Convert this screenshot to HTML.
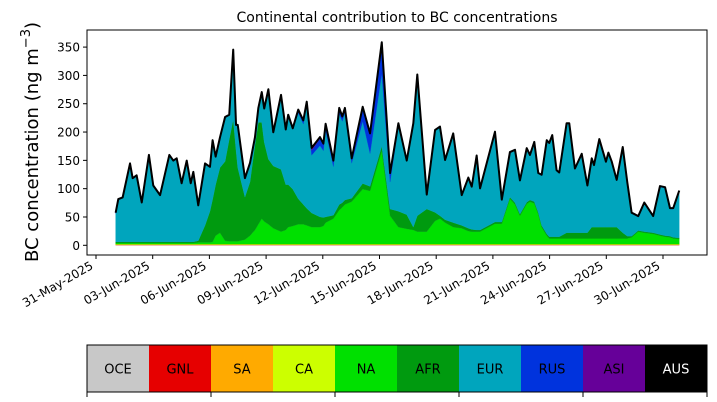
<!DOCTYPE html>
<html><head><meta charset="utf-8">
<style>
html,body{margin:0;padding:0;background:#fff;}
svg{display:block;font-family:"DejaVu Sans","Liberation Sans",sans-serif;}
</style></head>
<body>
<svg id="chart" width="717" height="402" viewBox="0 0 717 402">
<text x="397" y="22" font-size="14" text-anchor="middle">Continental contribution to BC concentrations</text>
<text transform="translate(38,142) rotate(-90)" font-size="18" text-anchor="middle">BC concentration (ng m<tspan dy="-8" font-size="13">−3</tspan><tspan dy="8">)</tspan></text>
<g id="areas"></g>
<g id="axes"></g>
<g id="legend"></g>
</svg>
<script>
const days = [1.04,1.18,1.41,1.80,1.94,2.15,2.42,2.80,3.03,3.39,3.88,4.09,
4.27,4.53,4.80,5.01,5.15,5.41,5.77,6.03,6.17,6.33,6.56,6.83,
7.05,7.26,7.41,7.50,7.88,8.15,8.41,8.59,8.77,8.90,9.12,9.38,
9.79,10.04,10.17,10.41,10.70,10.97,11.15,11.41,11.85,12.03,12.15,12.56,
12.87,13.03,13.17,13.53,14.11,14.50,15.12,15.56,16.00,16.44,16.79,17.00,
17.50,17.94,18.20,18.47,18.90,19.35,19.70,19.88,20.14,20.32,21.11,21.47,
21.90,22.17,22.43,22.79,22.96,23.19,23.40,23.58,23.85,23.98,24.14,24.37,
24.51,24.90,25.04,25.34,25.70,26.00,26.23,26.35,26.63,26.98,27.11,27.29,
27.55,27.87,28.11,28.34,28.69,29.01,29.48,29.84,30.11,30.37,30.54,30.86];
const OCE = [0.5,0.5,0.5,0.5,0.5,0.5,0.5,0.5,0.5,0.5,0.5,0.5, 0.5,0.5,0.5,0.5,0.5,0.5,0.5,0.5,0.5,0.5,0.5,0.5,
0.5,0.5,0.5,0.5,0.5,0.5,0.5,0.5,0.5,0.5,0.5,0.5, 0.5,0.5,0.5,0.5,0.5,0.5,0.5,0.5,0.5,0.5,0.5,0.5,
0.5,0.5,0.5,0.5,0.5,0.5,0.5,0.5,0.5,0.5,0.5,0.5, 0.5,0.5,0.5,0.5,0.5,0.5,0.5,0.5,0.5,0.5,0.5,0.5,
0.5,0.5,0.5,0.5,0.5,0.5,0.5,0.5,0.5,0.5,0.5,0.5, 0.5,0.5,0.5,0.5,0.5,0.5,0.5,0.5,0.5,0.5,0.5,0.5,
0.5,0.5,0.5,0.5,0.5,0.5,0.5,0.5,0.5,0.5,0.5,0.5];
const GNL = [0.2,0.2,0.2,0.2,0.2,0.2,0.2,0.2,0.2,0.2,0.2,0.2, 0.2,0.2,0.2,0.2,0.2,0.2,0.2,0.2,0.2,0.2,0.2,0.2,
0.2,0.2,0.2,0.2,0.2,0.2,0.2,0.2,0.2,0.2,0.2,0.2, 0.2,0.2,0.2,0.2,0.2,0.2,0.2,0.2,0.2,0.2,0.2,0.2,
0.2,0.2,0.2,0.2,0.2,0.2,0.2,0.2,0.2,0.2,0.2,0.2, 0.2,0.2,0.2,0.2,0.2,0.2,0.2,0.2,0.2,0.2,0.2,0.2,
0.2,0.2,0.2,0.2,0.2,0.2,0.2,0.2,0.2,0.2,0.2,0.2, 0.2,0.2,0.2,0.2,0.2,0.2,0.2,0.2,0.2,0.2,0.2,0.2,
0.2,0.2,0.2,0.2,0.2,0.2,0.2,0.2,0.2,0.2,0.2,0.2];
const SA = [0.8,0.8,0.8,0.8,0.8,0.8,0.8,0.8,0.8,0.8,0.8,0.8, 0.8,0.8,0.8,0.8,0.8,0.8,0.8,0.8,0.8,0.8,0.8,0.8,
0.8,0.8,0.8,0.8,0.8,0.8,0.8,0.8,0.8,0.8,0.8,0.8, 0.8,0.8,0.8,0.8,0.8,0.8,0.8,0.8,0.8,0.8,0.8,0.8,
0.8,0.8,0.8,0.8,0.8,0.8,0.8,0.8,0.8,0.8,0.8,0.8, 0.8,0.8,0.8,0.8,0.8,0.8,0.8,0.8,0.8,0.8,0.8,0.8,
0.8,0.8,0.8,0.8,0.8,0.8,0.8,0.8,0.8,0.8,0.8,0.8, 0.8,0.8,0.8,0.8,0.8,0.8,0.8,0.8,0.8,0.8,0.8,0.8,
0.8,0.8,0.8,0.8,0.8,0.8,0.8,0.8,0.8,0.8,0.8,0.8];
const CA = [0.6,0.6,0.6,0.6,0.6,0.6,0.6,0.6,0.6,0.6,0.6,0.6, 0.6,0.6,0.6,0.6,0.6,0.6,0.6,0.6,0.6,0.6,0.6,0.6,
0.6,0.6,0.6,0.6,0.6,0.6,0.6,0.6,0.6,0.6,0.6,0.6, 0.6,0.6,0.6,0.6,0.6,0.6,0.6,0.6,0.6,0.6,0.6,0.6,
0.6,0.6,0.6,0.6,0.6,0.6,0.6,0.6,0.6,0.6,0.6,0.6, 0.6,0.6,0.6,0.6,0.6,0.6,0.6,0.6,0.6,0.6,0.6,0.6,
0.6,0.6,0.6,0.6,0.6,0.6,0.6,0.6,0.6,0.6,0.6,0.6, 0.6,0.6,0.6,0.6,0.6,0.6,0.6,0.6,0.6,0.6,0.6,0.6,
0.6,0.6,0.6,0.6,0.6,0.6,0.6,0.6,0.6,0.6,0.6,0.6];
const NA = [2,2,2,2,2,2,2,2,2,2,2,2,
2,2,2,2,2,3,3,3,4,15,20,6,
5,5,5,5,8,15,25,35,45,40,35,28,
22,25,30,32,35,35,33,30,30,32,38,45,
60,65,70,75,97,94,165,50,30,27,25,22,
22,41,45,38,30,28,23,22,22,22,36,36,
80,70,50,71,75,72,53,30,15,10,10,10,
10,10,10,10,10,10,10,10,10,10,10,10,
10,10,10,12,22,20,18,15,13,12,10,9];
const AFR = [2,2,2,2,2,2,2,2,2,2,2,2,
2,2,2,2,2,3,30,55,75,90,115,140,
180,215,160,130,75,95,150,180,170,140,115,110,
110,80,75,65,45,35,30,25,18,15,10,6,
10,8,8,6,10,8,8,12,28,25,5,28,
40,15,5,5,8,5,5,4,3,3,3,3,
3,3,3,3,3,3,3,3,3,3,3,3,
3,10,10,10,10,10,20,20,20,20,20,20,
20,10,4,2,2,2,2,2,2,2,2,2];
const EUR = [50,74,77,137,111,116,68,152,98,81,152,142,
146,102,142,102,122,61,108,77,103,48,52,77,
42,122,44,74,32,32,12,24,52,58,122,58,
130,96,122,106,152,142,182,102,126,118,152,86,
160,144,154,62,110,58,128,48,150,94,182,248,
24,144,156,104,156,52,88,74,130,72,158,38,
78,92,58,94,78,104,68,88,164,164,178,116,
112,192,192,112,138,82,120,108,154,114,130,114,
82,150,94,40,24,50,28,84,84,48,50,82];
const RUS = [1,1,1,1,1,1,1,1,1,1,1,1, 1,1,1,1,1,1,1,1,1,1,1,1, 1,1,1,1,1,1,1,1,1,1,1,1,
1,1,1,1,5,6,6,8,12,12,12,10,
10,8,8,8,25,35,55,15,5,1,1,1,
1,1,1,1,1,1,1,1,1,1,1,1, 1,1,1,1,1,1,1,1,1,1,1,1, 1,1,1,1,1,1,1,1,1,1,1,1, 1,1,1,1,1,1,1,1,1,1,1,1];
const ASI = [0.5,0.5,0.5,0.5,0.5,0.5,0.5,0.5,0.5,0.5,0.5,0.5, 0.5,0.5,0.5,0.5,0.5,0.5,0.5,0.5,0.5,0.5,0.5,0.5,
0.5,0.5,0.5,0.5,0.5,0.5,0.5,0.5,0.5,0.5,0.5,0.5,
0.5,0.5,0.5,0.5,0.5,0.5,0.5,5,3,0.5,0.5,0.5,
0.5,0.5,0.5,0.5,0.5,0.5,0.5,0.5,0.5,0.5,0.5,0.5, 0.5,0.5,0.5,0.5,0.5,0.5,0.5,0.5,0.5,0.5,0.5,0.5,
0.5,0.5,0.5,0.5,0.5,0.5,0.5,0.5,0.5,0.5,0.5,0.5, 0.5,0.5,0.5,0.5,0.5,0.5,0.5,0.5,0.5,0.5,0.5,0.5,
0.5,0.5,0.5,0.5,0.5,0.5,0.5,0.5,0.5,0.5,0.5,0.5];
const AUS = [0,0,0,0,0,0,0,0,0,0,0,0, 0,0,0,0,0,0,0,0,0,0,0,0, 0,0,0,0,0,0,0,0,0,0,0,0,
0,0,0,0,0,0,0,0,0,0,0,0, 0,0,0,0,0,0,0,0,0,0,0,0, 0,0,0,0,0,0,0,0,0,0,0,0,
0,0,0,0,0,0,0,0,0,0,0,0, 0,0,0,0,0,0,0,0,0,0,0,0, 0,0,0,0,0,0,0,0,0,0,0,0];
const regionNames = ["OCE","GNL","SA","CA","NA","AFR","EUR","RUS","ASI","AUS"];
const yTicks = [0,50,100,150,200,250,300,350];
const xTickDays = [0,3,6,9,12,15,18,21,24,27,30];
const xTickLabels = ["31-May-2025","03-Jun-2025","06-Jun-2025","09-Jun-2025","12-Jun-2025","15-Jun-2025","18-Jun-2025","21-Jun-2025","24-Jun-2025","27-Jun-2025","30-Jun-2025"];

const series = [OCE,GNL,SA,CA,NA,AFR,EUR,RUS,ASI,AUS];
const colors = ["#c8c8c8","#e60000","#ffaa00","#ccff00","#00e000","#009a0f","#00a5bd","#0033dd","#660099","#000000"];
const NS = "http://www.w3.org/2000/svg";
const PL = 87, PR = 707, PT = 30, PB = 255;
function xScale(d){ return 96 + d * 18.9; }
function yScale(v){ return 245.3 - v * 0.5663; }
function mk(tag, attrs, parent){ const e = document.createElementNS(NS, tag); for (const k in attrs) e.setAttribute(k, attrs[k]); parent.appendChild(e); return e; }

const areas = document.getElementById('areas');
const n = days.length;
let base = new Array(n).fill(0);
series.forEach((s, si) => {
  const top = base.map((b, i) => b + s[i]);
  let d = "";
  for (let i = 0; i < n; i++) d += (i ? "L" : "M") + xScale(days[i]).toFixed(2) + "," + yScale(top[i]).toFixed(2);
  for (let i = n - 1; i >= 0; i--) d += "L" + xScale(days[i]).toFixed(2) + "," + yScale(base[i]).toFixed(2);
  d += "Z";
  const p = mk('path', {d: d, fill: colors[si], stroke: colors[si], 'stroke-width': 0.3}, areas);
  
  
  base = top;
});
let ld = "";
for (let i = 0; i < n; i++) ld += (i ? "L" : "M") + xScale(days[i]).toFixed(2) + "," + yScale(base[i]).toFixed(2);
const tl = mk('path', {d: ld, fill: 'none', stroke: '#000', 'stroke-width': 2, 'stroke-linejoin': 'round'}, areas);



const axes = document.getElementById('axes');
const frame = mk('rect', {x: PL, y: PT, width: PR - PL, height: PB - PT, fill: 'none', stroke: '#000', 'stroke-width': 1}, axes);


yTicks.forEach(v => {
  const y = yScale(v);
  const t = mk('line', {x1: PL - 4, x2: PL, y1: y, y2: y, stroke: '#000'}, axes);
  
  
  const tx = mk('text', {x: PL - 7, y: y + 4.5, 'font-size': 12, 'text-anchor': 'end'}, axes);
  tx.textContent = v;
  
  
});
xTickDays.forEach((d, i) => {
  const x = xScale(d);
  const t = mk('line', {x1: x, x2: x, y1: PB, y2: PB + 4, stroke: '#000'}, axes);
  
  
  const tx = mk('text', {x: x - 2, y: PB + 13, 'font-size': 12, 'text-anchor': 'end', transform: 'rotate(-30,' + (x - 2) + ',' + (PB + 13) + ')'}, axes);
  tx.textContent = xTickLabels[i];
  
  
});

const leg = document.getElementById('legend');
const LX = 87, LW = 620, LY = 345, LH = 47, cw = LW / 10;
regionNames.forEach((nm, i) => {
  const r = mk('rect', {x: LX + i * cw, y: LY, width: cw, height: LH, fill: colors[i]}, leg);
  
  
  const t = mk('text', {x: LX + i * cw + cw / 2, y: LY + LH / 2 + 5, 'font-size': 13, 'text-anchor': 'middle', fill: nm === 'AUS' ? '#fff' : '#000'}, leg);
  t.textContent = nm;
  
  
});
const lf = mk('rect', {x: LX, y: LY, width: LW, height: LH, fill: 'none', stroke: '#000', 'stroke-width': 1}, leg);


[0, 2, 4, 6, 8, 10].forEach(k => {
  const x = LX + k * cw;
  const t = mk('line', {x1: x, x2: x, y1: LY + LH, y2: LY + LH + 5, stroke: '#000'}, leg);
  
  
});
</script>
</body></html>
